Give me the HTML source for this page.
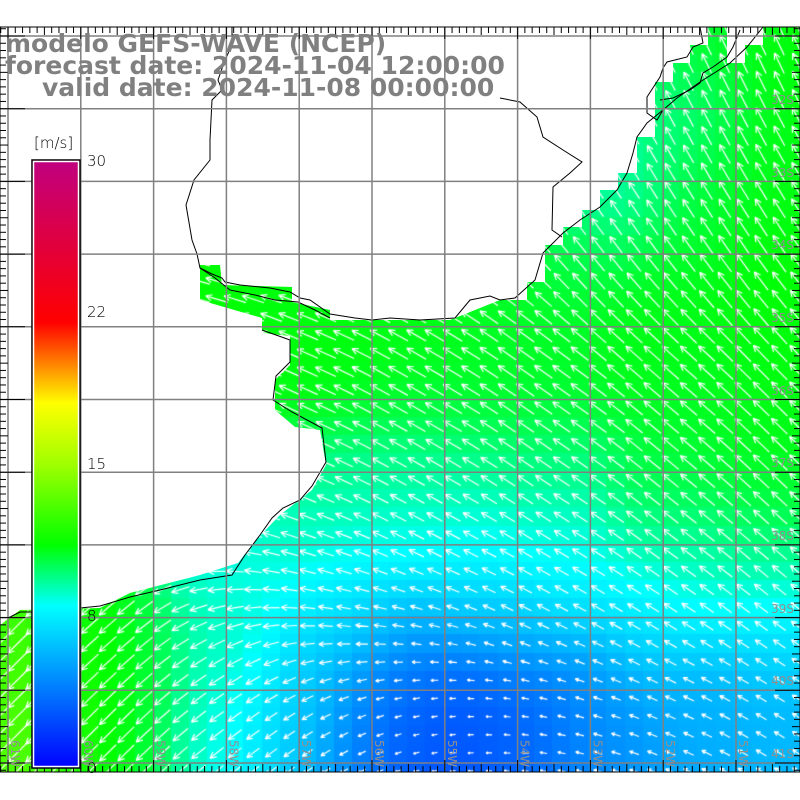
<!DOCTYPE html>
<html><head><meta charset="utf-8"><style>
html,body{margin:0;padding:0;background:#fff;}
#w{position:relative;width:800px;height:800px;overflow:hidden;}
canvas,svg{position:absolute;left:0;top:0;}
.t{font-family:"DejaVu Sans","Liberation Sans",sans-serif;font-weight:bold;font-size:25px;fill:#808080;}
.c{font-family:"DejaVu Sans","Liberation Sans",sans-serif;font-size:15px;fill:#000;font-weight:200;}
.g{font-family:"DejaVu Sans",sans-serif;font-size:12px;fill:#909090;}
</style></head><body><div id="w">
<canvas id="cv" width="800" height="800"></canvas>
<svg width="800" height="800" id="sv" xmlns="http://www.w3.org/2000/svg">
<polygon fill="#fff" points="0,27 708,27 708,45 690,45 690,63 673,63 673,82 655,82 655,137 637,137 637,173 618,173 618,190 600,190 600,210 582,210 582,227 563,227 563,245 545,245 545,282 527,282 527,300 500,300 450,320 330,320 330,310 292,302 292,287 222,285 220,265 200,265 200,300 262,318 262,333 290,336 290,365 275,380 275,410 295,427 320,430 326,465 312,490 280,515 256,540 238,563 200,575 130,593 100,608 20,610 0,625"/>
<polygon fill="#fff" points="727,27 763,27 763,45 745,45 745,63 727,63"/>
<g fill="none" stroke="#000" stroke-width="1">
<polyline points="763,27 747,47 730,63 700,82 677,98 663,110 647,123 637,137 633,153 627,173 617,190 600,207 580,220 563,233 543,253 535,280 515,298 500,300 490,296 470,300 455,318 420,320 390,318 372,320 355,318 330,314 310,300 300,298 290,292 270,288 240,285 225,282 222,278 212,274 200,268 197,254 192,240 186,205 194,180 210,160 210,140 212,100 222,90 218,80 225,60 232,45 232,27"/>
<polyline points="700,27 703,43 693,47 687,57 667,62 663,68 660,77 647,97 647,113 657,120 663,110"/>
<polyline points="740,30 733,47 727,57 713,67 703,73 700,83 690,90 673,98 660,100"/>
<polyline points="500,98 520,102 537,117 543,137 563,150 582,162 570,173 553,187 552,230 562,237"/>
<polyline points="200,268 215,278 230,290 255,295 275,300 298,302 315,310 330,318"/>
<polyline points="262,330 290,340 290,362 276,376 273,400 292,412 322,428 326,462 312,486 300,500 283,508 272,518 260,535 245,555 232,575 200,580 160,590 130,597 100,606 40,612 20,612 8,618"/>
</g>
<g stroke="#808080" stroke-width="1.5" id="grid"></g>
<g stroke="#000" stroke-width="1" id="ticks"></g>
<rect x="0" y="27" width="800" height="745" fill="none" stroke="#000" stroke-width="1"/>
<defs><linearGradient id="cb" x1="0" y1="1" x2="0" y2="0">
<stop offset="0" stop-color="#0000ff"/><stop offset="0.2667" stop-color="#00ffff"/><stop offset="0.3667" stop-color="#00ff00"/><stop offset="0.5" stop-color="#a0ff00"/><stop offset="0.6" stop-color="#ffff00"/><stop offset="0.7333" stop-color="#ff0000"/><stop offset="1" stop-color="#c00080"/></linearGradient></defs>
<rect x="32" y="160" width="48" height="608" fill="url(#cb)" stroke="#000" stroke-width="1.5"/>
<rect x="33.5" y="161.5" width="45" height="605" fill="none" stroke="#fff" stroke-width="1.5"/>
<text class="c" x="34" y="148">[m/s]</text>
<text class="c" x="87" y="166">30</text>
<text class="c" x="87" y="317">22</text>
<text class="c" x="87" y="469">15</text>
<text class="c" x="87" y="621">8</text>
<text class="c" x="87" y="773">0</text>
<text class="t" x="5" y="52">modelo GEFS-WAVE (NCEP)</text>
<text class="t" x="5" y="74">forecast date: 2024-11-04 12:00:00</text>
<text class="t" x="42" y="96">valid date: 2024-11-08 00:00:00</text>
<g class="g" text-anchor="end">
<text x="794" y="104">32S</text><text x="794" y="177">33S</text><text x="794" y="249">34S</text>
<text x="794" y="322">35S</text><text x="794" y="395">36S</text><text x="794" y="467">37S</text>
<text x="794" y="540">38S</text><text x="794" y="613">39S</text><text x="794" y="685">40S</text><text x="794" y="758">41S</text>
</g>
<g class="g" id="lon"></g>
</svg>
<script>
var cv=document.getElementById('cv'),c=cv.getContext('2d');
var P=[[720,45,10.5,245],[780,60,11,245],[690,110,9.5,242],[780,140,10.8,242],
[620,200,8.8,238],[700,200,10.3,240],[780,200,10.8,238],
[580,260,10.3,230],[680,260,10.7,232],[780,260,11,235],
[300,340,11,205],[400,340,10.8,210],[520,330,10.6,215],[650,330,10.8,222],[780,330,10.9,228],
[240,290,11,195],[300,310,10.7,200],
[300,400,10.8,205],[420,400,10.5,210],[550,400,10.5,215],[700,400,10.6,220],[780,400,10.8,225],
[320,480,9.3,205],[420,470,9.3,210],[550,470,9.6,215],[680,470,10.5,220],[780,470,10.8,225],
[300,520,8.8,200],[420,520,8.5,210],[550,520,8.5,212],[680,520,9.5,218],[780,520,10,222],
[250,580,8.3,190],[350,580,7.8,200],[450,580,7.6,205],[550,580,7.8,210],[680,580,8.5,215],[780,580,8.8,220],
[30,660,12.5,135],[120,650,10.8,140],[220,640,8.8,150],[330,640,6.5,180],[420,640,4.5,190],[520,640,5.5,205],[650,640,6.8,210],[780,640,7,215],
[30,720,13,135],[120,710,10.8,135],[220,710,8.5,145],[300,710,6.5,150],[380,710,3.5,160],[450,710,2.5,175],[520,710,3,190],[600,710,4.5,200],[700,710,5.5,205],[780,710,5.8,210],
[30,760,13,135],[120,760,10.8,135],[220,760,8.3,140],[300,760,6,140],[380,760,3.2,155],[450,760,2.5,170],[520,760,3.2,185],[600,760,4.5,195],[700,760,5.3,205],[780,760,5.8,215]];
function f(x,y){var ws=0,s=0,a=0;for(var i=0;i<P.length;i++){var dx=x-P[i][0],dy=y-P[i][1],w=Math.exp(-(dx*dx+dy*dy)/(2*42*42))+1e-12;ws+=w;s+=w*P[i][2];a+=w*P[i][3];}return[s/ws,a/ws];}
var S=[[0,0,0,255],[8,0,255,255],[11,0,255,0],[15,160,255,0],[18,255,255,0],[22,255,0,0],[30,192,0,128]];
function col(v){for(var i=1;i<S.length;i++){if(v<=S[i][0]){var t=(v-S[i-1][0])/(S[i][0]-S[i-1][0]);var r=[];for(var k=1;k<4;k++)r.push(Math.round(S[i-1][k]+t*(S[i][k]-S[i-1][k])));return'rgb('+r+')';}}return'rgb(192,0,128)';}
var cs=72.6/4,x0=8-cs*1,y0=36-cs*1;
var cells=[];
for(var yy=y0;yy<772;yy+=cs){for(var xx=x0;xx<800;xx+=cs){var v=f(xx+cs/2,yy+cs/2);c.fillStyle=col(v[0]);c.fillRect(Math.floor(xx),Math.floor(yy),Math.ceil(cs)+1,Math.ceil(cs)+1);cells.push([xx+cs/2,yy+cs/2,v]);}}
c.strokeStyle='#fff';c.lineWidth=1.2;
cells.forEach(function(e){var v=e[2],L=v[0]*2.1,a=v[1]*Math.PI/180,cx=e[0],cy=e[1];var hx=cx+Math.cos(a)*L/2,hy=cy+Math.sin(a)*L/2,tx=cx-Math.cos(a)*L/2,ty=cy-Math.sin(a)*L/2;
c.beginPath();c.moveTo(tx,ty);c.lineTo(hx,hy);var h=Math.min(7,L*0.4);
for(var s=-1;s<=1;s+=2){var b=a+Math.PI+s*0.45;c.moveTo(hx,hy);c.lineTo(hx+Math.cos(b)*h,hy+Math.sin(b)*h);}c.stroke();});
c.fillStyle='#fff';c.fillRect(0,0,800,27);c.fillRect(0,772,800,28);
var ns='http://www.w3.org/2000/svg',g=document.getElementById('grid'),tk=document.getElementById('ticks'),ln=document.getElementById('lon');
function L(p,x1,y1,x2,y2){var l=document.createElementNS(ns,'line');l.setAttribute('x1',x1);l.setAttribute('y1',y1);l.setAttribute('x2',x2);l.setAttribute('y2',y2);p.appendChild(l);}
for(var i=0;i<11;i++){var x=8+i*72.8;L(g,x,27,x,772);var y=36+i*72.7;if(y<772)L(g,0,y,800,y);}
for(var x=8-72.8;x<800;x+=72.8/10){var k=Math.round((x-8)/7.28);var m=(k%10==0)?12:((k%5==0)?8:6);L(tk,x,27,x,27+m);L(tk,x,772,x,772-m);}
for(var y=36-72.7;y<772;y+=72.7/10){if(y<27)continue;var k=Math.round((y-36)/7.27);var m=(k%10==0)?25:((k%5==0)?8:6);L(tk,0,y,m,y);L(tk,800,y,800-m,y);}
var lab=['61W','60W','59W','58W','57W','56W','55W','54W','53W','52W','51W'];
for(var i=0;i<11;i++){var t=document.createElementNS(ns,'text');var x=8+i*72.8+3;t.setAttribute('transform','translate('+x+',740) rotate(90)');t.textContent=lab[i];ln.appendChild(t);}
</script>
</div></body></html>
